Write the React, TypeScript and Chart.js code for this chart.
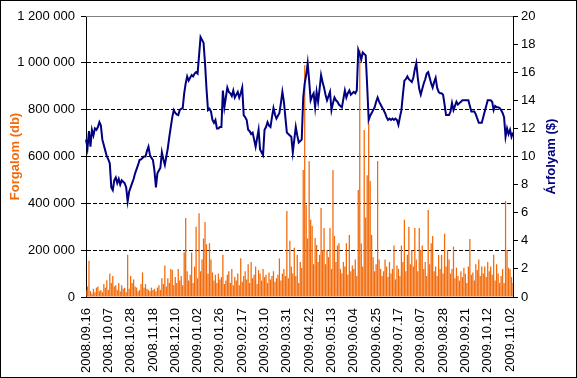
import React, { useEffect, useRef } from 'react';
import { Chart, registerables } from 'chart.js';

Chart.register(...registerables);

// Tick labels shown every LABEL_STEP trading days
const tickLabels = [
  '2008.09.16', '2008.10.07', '2008.10.28', '2008.11.18', '2008.12.10',
  '2009.01.02', '2009.01.26', '2009.02.17', '2009.03.10', '2009.03.31',
  '2009.04.22', '2009.05.13', '2009.06.04', '2009.06.25', '2009.07.17',
  '2009.08.07', '2009.08.28', '2009.09.21', '2009.10.12', '2009.11.02',
];
const LABEL_STEP = 15;

// Árfolyam ($) – daily price
const price = [
  11.2, 10.6, 11.8, 10.7, 11.9, 11.5, 12.0, 11.9, 12.1, 12.45,
  12.2, 11.2, 10.8, 10.4, 10.0, 9.8, 9.5, 7.8, 7.6, 8.3,
  8.5, 8.1, 8.4, 8.0, 8.3, 8.2, 8.1, 7.8, 6.8, 7.5,
  7.8, 8.1, 8.4, 8.8, 9.1, 9.4, 9.75, 9.8, 9.9, 10.0,
  10.0, 10.4, 10.7, 10.1, 9.9, 9.75, 9.0, 7.8, 8.8, 9.0,
  9.2, 10.3, 9.8, 9.4, 10.0, 10.6, 11.4, 12.1, 12.8, 13.3,
  13.1, 13.0, 12.95, 13.3, 13.4, 13.45, 14.5, 15.2, 15.7, 15.4,
  15.6, 15.8, 15.7, 15.9, 16.0, 15.9, 17.2, 18.5, 18.3, 18.1,
  16.65, 14.8, 13.3, 13.4, 13.2, 12.6, 12.4, 12.6, 12.0, 12.0,
  12.1, 12.1, 14.7, 13.5, 14.2, 14.9, 14.6, 14.5, 14.3, 14.7,
  14.2, 14.4, 14.6, 14.2, 14.5, 14.9, 12.95, 12.8, 12.6, 11.9,
  11.8, 11.6, 11.7, 11.2, 10.7, 11.3, 11.9, 10.5, 10.3, 10.1,
  11.9, 12.1, 12.45, 12.2, 12.1, 12.8, 13.45, 13.0, 12.7, 12.9,
  13.1, 13.8, 14.6, 13.9, 12.8, 11.7, 11.6, 11.5, 11.4, 10.3,
  11.2, 12.1, 11.5, 11.0, 11.1, 11.2, 14.2, 15.2, 15.8, 16.65,
  15.4, 14.0, 14.3, 14.5, 13.5, 14.6, 13.9, 14.8, 15.8, 15.3,
  14.9, 14.4, 14.0, 14.3, 14.6, 13.3, 13.8, 14.2, 14.0, 13.9,
  13.7, 13.6, 13.5, 14.1, 14.7, 14.2, 14.5, 14.7, 14.4, 14.5,
  14.6, 14.5, 14.7, 17.6, 17.3, 16.9, 17.4, 17.3, 17.2, 15.0,
  12.6, 12.9, 13.1, 13.3, 13.5, 13.9, 14.2, 13.9, 13.7, 13.5,
  13.3, 13.1, 12.8, 12.6, 12.7, 12.6, 12.7, 12.6, 12.7, 12.6,
  12.25, 12.8, 13.3, 14.4, 15.4, 15.5, 15.7, 15.5, 15.4, 15.3,
  15.6, 16.2, 16.65, 15.6, 14.8, 14.4, 14.8, 15.2, 15.5, 15.9,
  16.0, 15.6, 15.2, 14.9, 15.3, 15.6, 14.9, 14.6, 14.5, 14.5,
  14.4, 13.7, 12.95, 12.95, 12.95, 13.2, 13.8, 13.3, 13.6, 13.9,
  13.7, 13.8, 13.9, 14.0, 14.0, 14.0, 14.0, 14.0, 13.6, 13.2,
  13.2, 13.2, 13.0, 12.7, 12.4, 12.4, 12.4, 12.8, 13.2, 13.6,
  14.0, 14.0, 14.0, 13.9, 13.3, 13.6, 13.5, 13.5, 13.45, 13.3,
  13.1, 12.8, 11.4, 12.0, 11.6, 11.9, 11.4, 11.7,
];

// Forgalom (db) – daily volume, in thousands
const volumeK = [
  30, 45, 155, 25, 15, 35, 20, 40, 45, 25,
  30, 20, 55, 40, 72, 30, 100, 60, 90, 45,
  50, 30, 60, 25, 50, 35, 40, 20, 180, 35,
  90, 60, 75, 45, 40, 25, 30, 55, 105, 40,
  55, 35, 30, 25, 40, 30, 35, 25, 40, 50,
  30, 80, 55, 135, 45, 80, 60, 120, 115, 50,
  85, 60, 120, 70, 90, 50, 190, 337, 110, 70,
  95, 190, 60, 130, 300, 80, 358, 110, 160, 250,
  320, 225, 100, 230, 160, 105, 70, 95, 60, 100,
  75, 85, 180, 55, 70, 95, 110, 60, 120, 50,
  85, 70, 100, 50, 165, 65, 90, 110, 75, 140,
  60, 150, 80, 95, 130, 55, 115, 100, 70, 120,
  85, 95, 60, 105, 75, 90, 110, 65, 80, 95,
  165, 70, 100, 120, 90, 367, 80, 240, 130, 100,
  210, 90, 180, 60, 150, 124, 542, 990, 393, 250,
  580, 330, 303, 140, 252, 222, 150, 180, 380, 200,
  295, 140, 200, 170, 295, 120, 542, 260, 150, 220,
  230, 120, 100, 150, 130, 230, 95, 265, 110, 135,
  120, 160, 90, 457, 1055, 230, 130, 713, 340, 520,
  743, 495, 265, 170, 110, 140, 580, 160, 120, 90,
  110, 160, 130, 85, 150, 100, 120, 220, 75, 135,
  120, 90, 220, 150, 330, 110, 180, 300, 140, 200,
  130, 295, 160, 110, 295, 200, 220, 120, 150, 90,
  372, 140, 230, 260, 110, 130, 90, 180, 120, 180,
  100, 270, 130, 200, 160, 100, 120, 215, 80, 125,
  90, 70, 110, 85, 125, 100, 60, 130, 248, 95,
  105, 70, 140, 115, 160, 90, 130, 100, 130, 85,
  150, 110, 130, 95, 180, 70, 140, 100, 60, 90,
  120, 60, 410, 200, 125, 120, 85, 60,
];

const VOL_MAX = 1200000;
const VOL_STEP = 200000;
const PRICE_MAX = 20;
const PRICE_STEP = 2;

const FONT = '"Liberation Sans", Arial, sans-serif';
const ORANGE = '#F26A0A';
const NAVY = '#000080';

const fmtSpace = (v: number) => String(v).replace(/\B(?=(\d{3})+(?!\d))/g, ' ');

const framePlugin = {
  id: 'frame',
  beforeDraw(chart: any) {
    const { ctx, width, height } = chart;
    ctx.save();
    ctx.fillStyle = '#ffffff';
    ctx.fillRect(0, 0, width, height);
    ctx.restore();
  },
  afterDraw(chart: any) {
    const { ctx, chartArea: a, width, height } = chart;
    ctx.save();
    // top border of plot area
    ctx.strokeStyle = '#808080';
    ctx.lineWidth = 1;
    ctx.beginPath();
    ctx.moveTo(a.left, Math.round(a.top) + 0.5);
    ctx.lineTo(a.right, Math.round(a.top) + 0.5);
    ctx.stroke();
    // axis titles
    const cy = (a.top + a.bottom) / 2;
    ctx.font = 'bold 13px ' + FONT;
    ctx.textAlign = 'center';
    ctx.textBaseline = 'middle';
    ctx.save();
    ctx.translate(15, cy);
    ctx.rotate(-Math.PI / 2);
    ctx.fillStyle = ORANGE;
    ctx.fillText('Forgalom (db)', 0, 0);
    ctx.restore();
    ctx.save();
    ctx.translate(551, cy);
    ctx.rotate(-Math.PI / 2);
    ctx.fillStyle = NAVY;
    ctx.fillText('Árfolyam ($)', 0, 0);
    ctx.restore();
    // outer frame
    ctx.strokeStyle = '#000000';
    ctx.strokeRect(0.5, 0.5, width - 1, height - 1);
    ctx.restore();
  },
};

export default function App() {
  const ref = useRef<HTMLCanvasElement | null>(null);

  useEffect(() => {
    if (!ref.current) return;
    const categories = price.map((_, i) => String(i));
    const chart = new Chart(ref.current, {
      type: 'bar',
      data: {
        labels: categories,
        datasets: [
          {
            type: 'line',
            label: 'Árfolyam ($)',
            data: price,
            yAxisID: 'y1',
            borderColor: NAVY,
            borderWidth: 2,
            pointRadius: 0,
            tension: 0,
            fill: false,
            order: 0,
          } as any,
          {
            type: 'bar',
            label: 'Forgalom (db)',
            data: volumeK.map((v) => v * 1000),
            yAxisID: 'y',
            backgroundColor: ORANGE,
            borderWidth: 0,
            barPercentage: 0.85,
            categoryPercentage: 1,
            order: 1,
          } as any,
        ],
      },
      options: {
        responsive: false,
        animation: false,
        devicePixelRatio: 1,
        layout: { padding: { top: 16, left: 0, right: 0, bottom: 0 } },
        plugins: {
          legend: { display: false },
          tooltip: { enabled: false },
        },
        scales: {
          x: {
            type: 'category',
            offset: false,
            grid: { display: false, drawTicks: false, tickLength: 0 },
            border: { display: true, color: '#000', width: 1 },
            ticks: {
              autoSkip: false,
              maxRotation: 90,
              minRotation: 90,
              padding: 11,
              color: '#000',
              font: { family: FONT, size: 13 },
              callback: (_v: any, i: number) =>
                i % LABEL_STEP === 0 ? tickLabels[i / LABEL_STEP] : null,
            },
            afterFit: (s: any) => {
              s.height = 81;
            },
          },
          y: {
            position: 'left',
            min: 0,
            max: VOL_MAX,
            ticks: {
              stepSize: VOL_STEP,
              color: '#000',
              padding: 6,
              font: { family: FONT, size: 13 },
              callback: (v: any) => fmtSpace(Number(v)),
            },
            grid: {
              color: (c: any) =>
                c.tick && (c.tick.value === 0 || c.tick.value === VOL_MAX)
                  ? 'rgba(0,0,0,0)'
                  : '#000',
              tickColor: '#000',
              tickLength: 5,
              lineWidth: 1,
            },
            border: { display: true, color: '#000', width: 1, dash: [4, 2] },
            afterFit: (s: any) => {
              s.width = 86;
            },
          },
          y1: {
            position: 'right',
            min: 0,
            max: PRICE_MAX,
            ticks: {
              stepSize: PRICE_STEP,
              color: '#000',
              padding: 3,
              font: { family: FONT, size: 13 },
            },
            grid: { drawOnChartArea: false, tickColor: '#000', tickLength: 5 },
            border: { display: true, color: '#000', width: 1 },
            afterFit: (s: any) => {
              s.width = 64;
            },
          },
        },
      } as any,
      plugins: [framePlugin],
    });
    return () => chart.destroy();
  }, []);

  return (
    <div style={{ position: 'fixed', left: 0, top: 0, width: 577, height: 378 }}>
      <canvas ref={ref} width={577} height={378} style={{ display: 'block' }} />
    </div>
  );
}
